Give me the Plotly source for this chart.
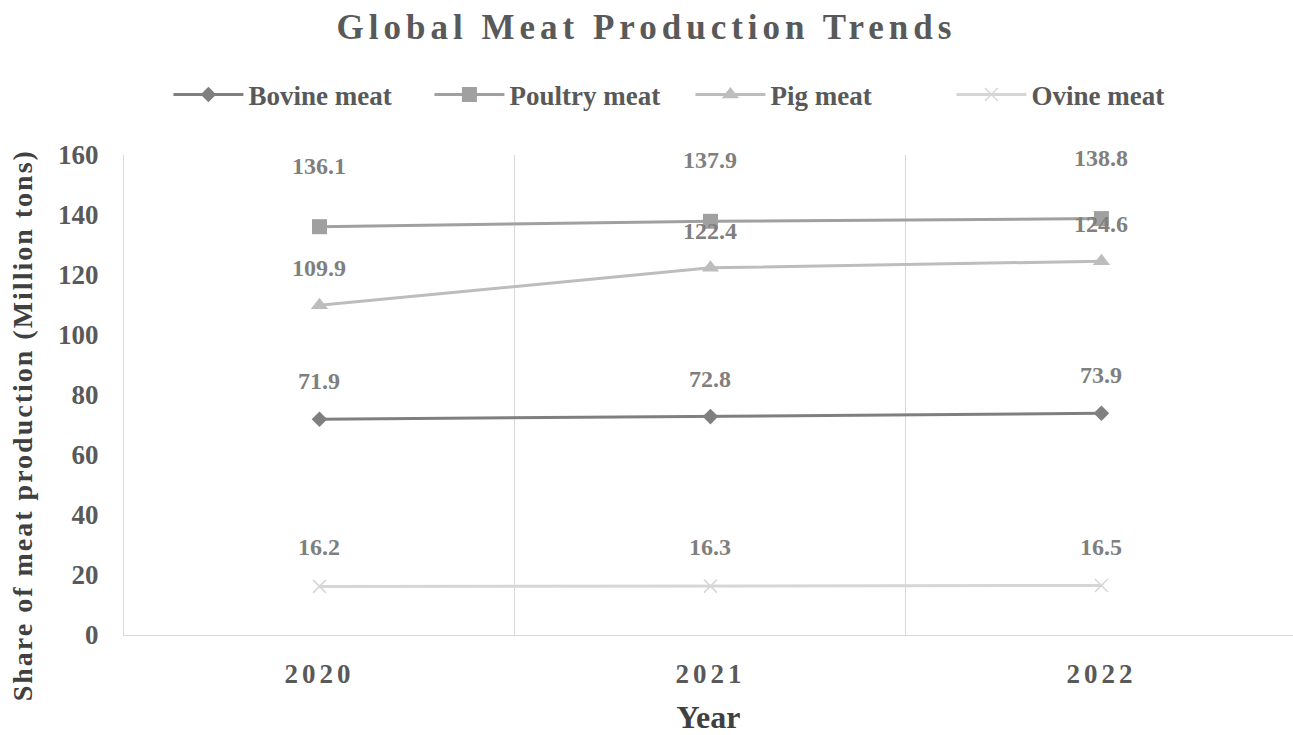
import plotly.graph_objects as go

years = ["2020", "2021", "2022"]
bovine = [71.9, 72.8, 73.9]
poultry = [136.1, 137.9, 138.8]
pig = [109.9, 122.4, 124.6]
ovine = [16.2, 16.3, 16.5]

series = [
    ("Bovine meat", bovine, "#7f7f7f", "diamond", 12, 38),
    ("Poultry meat", poultry, "#a0a0a0", "square", 15, 61),
    ("Pig meat", pig, "#bdbdbd", "triangle-up", 15, 37),
    ("Ovine meat", ovine, "#d6d6d6", "x-thin-open", 13, 39),
]

FONT = "Liberation Serif"
fig = go.Figure()
annotations = []
for name, vals, color, sym, size, shift in series:
    mk = dict(symbol=sym, size=size, color=color)
    if sym == "x-thin-open":
        mk["line"] = dict(color=color, width=1.5)
    fig.add_trace(go.Scatter(
        x=years, y=vals, name=f"<b>{name}</b>", mode="lines+markers",
        line=dict(color=color, width=3), marker=mk,
    ))
    for i, yv in enumerate(vals):
        annotations.append(dict(
            x=i, y=yv, xref="x", yref="y", text=f"<b>{yv:.1f}</b>", showarrow=False,
            yshift=shift, font=dict(family=FONT, size=24, color="#7f7f7f"),
        ))

annotations.append(dict(
    x=-0.087, y=0.4375, xref="paper", yref="paper", xanchor="center", yanchor="middle",
    text="<b>Share of meat production (Million tons)</b>", textangle=-90, showarrow=False,
    font=dict(family=FONT, size=28, color="#404040"),
))

fig.update_layout(
    width=1293, height=735,
    paper_bgcolor="white", plot_bgcolor="white",
    margin=dict(l=124, r=0, t=155, b=100, autoexpand=False),
    title=dict(text="<b>Global Meat Production Trends</b>", x=0.5, xanchor="center",
               y=0.963, yanchor="middle", yref="container",
               font=dict(family=FONT, size=35, color="#595959")),
    legend=dict(orientation="h", x=0.038, xanchor="left", y=1.125, yanchor="middle",
                font=dict(family=FONT, size=27, color="#595959"),
                itemwidth=70, traceorder="normal", entrywidth=176),
    annotations=annotations,
    showlegend=True,
)
fig.update_xaxes(
    type="category", tickson="boundaries", showgrid=True, gridcolor="#d9d9d9", gridwidth=1,
    showline=True, linecolor="#d9d9d9", linewidth=1, ticks="", range=[-0.5, 2.49],
    automargin=False,
    tickfont=dict(family=FONT, size=27, color="#595959"), ticklabelstandoff=15,
    title=dict(text="<b>Year</b>", font=dict(family=FONT, size=32, color="#404040"), standoff=17),
    tickprefix="<b>", ticksuffix="</b>",
)
fig.update_yaxes(
    range=[0, 160], dtick=20, showgrid=False, zeroline=False,
    showline=True, linecolor="#d9d9d9", linewidth=1, ticks="",
    automargin=False, ticklabelstandoff=19,
    tickfont=dict(family=FONT, size=27, color="#595959"),
    tickprefix="<b>", ticksuffix="</b>",
)

post = """
document.body.style.margin = '0';
function sp(){
  document.querySelectorAll('.gtitle').forEach(function(e){e.style.letterSpacing='5px';});
  document.querySelectorAll('.xtick text').forEach(function(e){e.style.letterSpacing='4px';});
  document.querySelectorAll('.annotation-text').forEach(function(e){
    if ((e.textContent || '').indexOf('Share') === 0) { e.style.letterSpacing = '2px'; }
  });
}
sp(); setTimeout(sp, 300);
"""
fig.write_html("out.html", post_script=post, config={"displayModeBar": False})
